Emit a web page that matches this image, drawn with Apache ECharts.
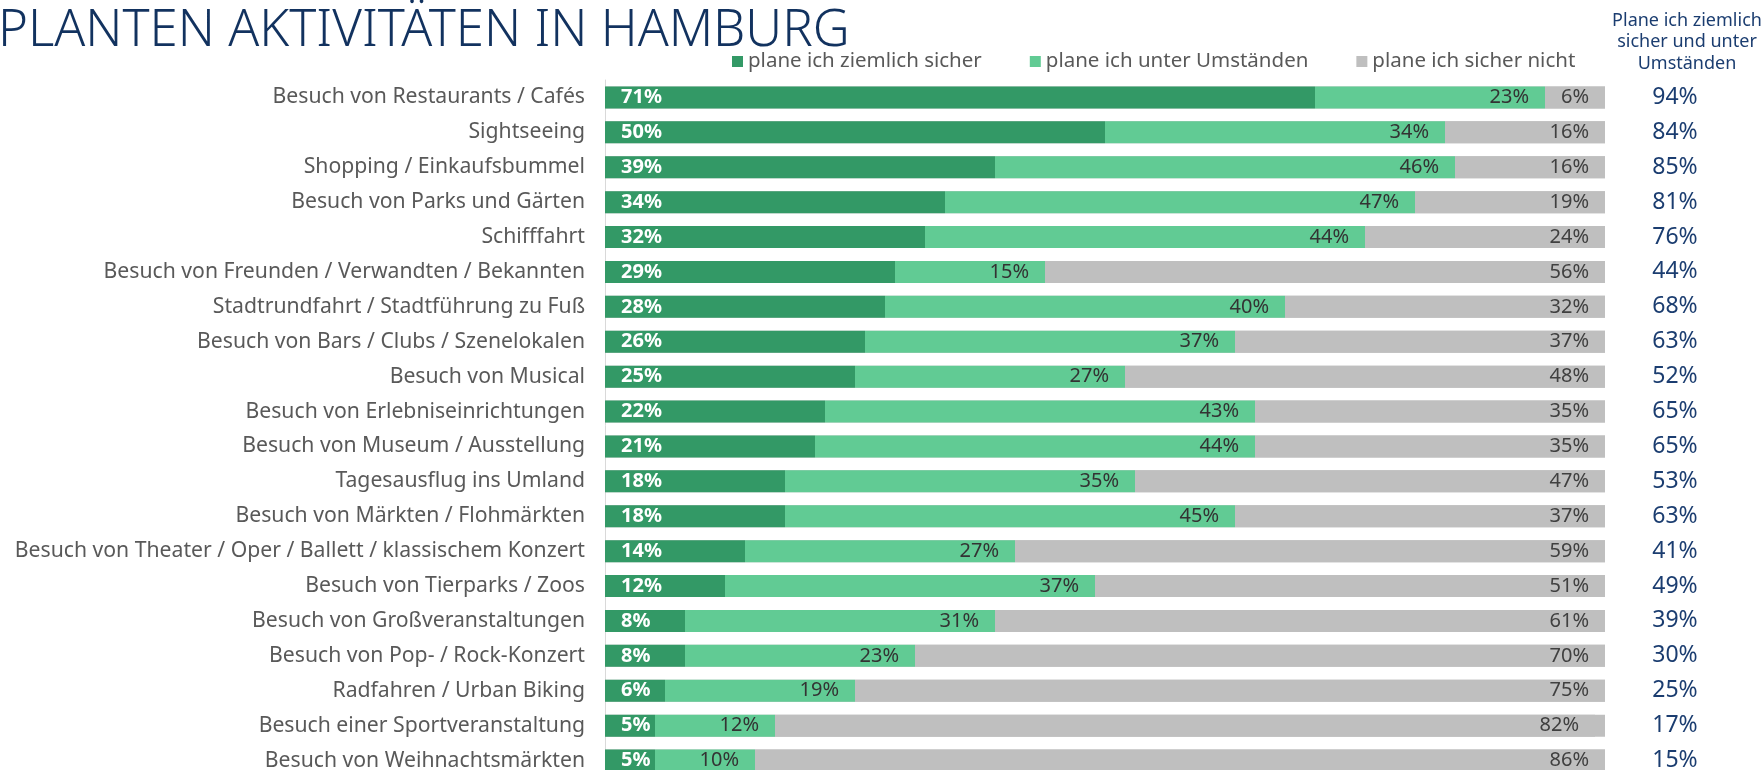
<!DOCTYPE html>
<html>
<head>
<meta charset="utf-8">
<script src="https://cdn.jsdelivr.net/npm/echarts@6/dist/echarts.min.js"></script>
<style>
  html, body { margin: 0; padding: 0; background: #fff; }
  #chart { width: 1762px; height: 770px; }
</style>
</head>
<body>
<div id="chart"></div>
<script>
const categories = [
  "Besuch von Restaurants / Cafés",
  "Sightseeing",
  "Shopping / Einkaufsbummel",
  "Besuch von Parks und Gärten",
  "Schifffahrt",
  "Besuch von Freunden / Verwandten / Bekannten",
  "Stadtrundfahrt / Stadtführung zu Fuß",
  "Besuch von Bars / Clubs / Szenelokalen",
  "Besuch von Musical",
  "Besuch von Erlebniseinrichtungen",
  "Besuch von Museum / Ausstellung",
  "Tagesausflug ins Umland",
  "Besuch von Märkten / Flohmärkten",
  "Besuch von Theater / Oper / Ballett / klassischem Konzert",
  "Besuch von Tierparks / Zoos",
  "Besuch von Großveranstaltungen",
  "Besuch von Pop- / Rock-Konzert",
  "Radfahren / Urban Biking",
  "Besuch einer Sportveranstaltung",
  "Besuch von Weihnachtsmärkten"
];
const ziemlichSicher = [71, 50, 39, 34, 32, 29, 28, 26, 25, 22, 21, 18, 18, 14, 12, 8, 8, 6, 5, 5];
const unterUmstaenden = [23, 34, 46, 47, 44, 15, 40, 37, 27, 43, 44, 35, 45, 27, 37, 31, 23, 19, 12, 10];
const sicherNicht = [6, 16, 16, 19, 24, 56, 32, 37, 48, 35, 35, 47, 37, 59, 51, 61, 70, 75, 82, 86];
const summe = [94, 84, 85, 81, 76, 44, 68, 63, 52, 65, 65, 53, 63, 41, 49, 39, 30, 25, 17, 15];
const seriesNames = ["plane ich ziemlich sicher", "plane ich unter Umständen", "plane ich sicher nicht"];

const font = "Noto Sans";
const navy = "#1b3d70";

const chart = echarts.init(document.getElementById("chart"));
chart.setOption({
  animation: false,
  textStyle: { fontFamily: font },
  title: {
    text: "PLANTEN AKTIVITÄTEN IN HAMBURG",
    left: -7,
    top: 1,
    textStyle: { fontSize: 51, fontWeight: 300, color: "#12325f", fontFamily: font },
  },
  graphic: [
    {
      type: "text",
      x: 1687,
      y: 10,
      style: {
        text: "Plane ich ziemlich\nsicher und unter\nUmständen",
        textAlign: "center",
        textVerticalAlign: "top",
        fill: navy,
        fontSize: 18,
        lineHeight: 21.5,
        fontFamily: font,
      },
    },
  ],
  legend: {
    left: 727,
    top: 46,
    icon: "rect",
    itemWidth: 11,
    itemHeight: 11,
    itemGap: 48,
    textStyle: { fontSize: 20.5, color: "#595959", fontFamily: font },
    data: seriesNames,
  },
  grid: {
    left: 605,
    top: 80,
    width: 1000,
    height: 698,
    outerBoundsMode: "none",
  },
  xAxis: {
    type: "value",
    min: 0,
    max: 100,
    show: false,
  },
  yAxis: [
    {
      type: "category",
      data: categories,
      inverse: true,
      axisLine: { show: true, lineStyle: { color: "#d9d9d9", width: 1 } },
      axisTick: { show: false },
      axisLabel: { margin: 20, fontSize: 21.2, color: "#595959", fontFamily: font },
    },
    {
      type: "category",
      position: "right",
      data: summe,
      inverse: true,
      axisLine: { show: false },
      axisTick: { show: false },
      axisLabel: {
        margin: 70,
        align: "center",
        fontSize: 23,
        color: navy,
        fontFamily: font,
        formatter: "{value}%",
      },
    },
  ],
  series: [
    {
      name: seriesNames[0],
      type: "bar",
      stack: "a",
      barWidth: 22,
      itemStyle: { color: "#339966" },
      label: {
        show: true,
        position: "insideLeft",
        distance: 16,
        color: "#fff",
        fontWeight: "bold",
        fontSize: 20,
        fontFamily: font,
        formatter: "{c}%",
      },
      data: ziemlichSicher,
    },
    {
      name: seriesNames[1],
      type: "bar",
      stack: "a",
      barWidth: 22,
      itemStyle: { color: "#61cb94" },
      label: {
        show: true,
        position: "insideRight",
        distance: 16,
        color: "#333",
        fontSize: 20,
        fontFamily: font,
        formatter: "{c}%",
      },
      data: unterUmstaenden,
    },
    {
      name: seriesNames[2],
      type: "bar",
      stack: "a",
      barWidth: 22,
      showBackground: true,
      backgroundStyle: { color: "#bfbfbf" },
      itemStyle: { color: "#bfbfbf" },
      label: {
        show: true,
        position: "insideRight",
        distance: 16,
        color: "#404040",
        fontSize: 20,
        fontFamily: font,
        formatter: "{c}%",
      },
      data: sicherNicht,
    },
  ],
});
</script>
</body>
</html>
